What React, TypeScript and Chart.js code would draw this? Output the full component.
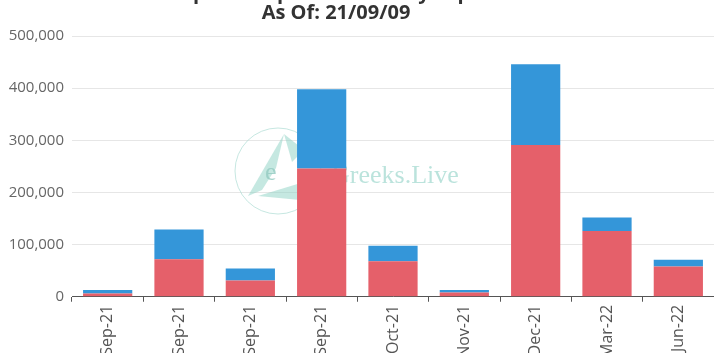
import React, { useEffect, useRef } from "react";
import { Chart, registerables } from "chart.js";
Chart.register(...registerables);

const titleLines = ["BTC Options Open Interest By Expiration", "As Of: 21/09/09"];
const categories = ["Sep-21", "Sep-21", "Sep-21", "Sep-21", "Oct-21", "Nov-21", "Dec-21", "Mar-22", "Jun-22"];
const redValues = [6000, 72000, 31000, 246000, 68000, 8000, 291000, 126000, 58000];
const blueValues = [7000, 57000, 23000, 152000, 30000, 5000, 155000, 26000, 13000];
const yMax = 500000;
const yStep = 100000;

const watermark = {
  id: "watermark",
  beforeDatasetsDraw(chart: any) {
    const { ctx, chartArea: a } = chart;
    const ox = a.left - 72;
    const oy = a.top - 36;
    const P = (x: number, y: number): [number, number] => [x + ox, y + oy];
    ctx.save();
    ctx.strokeStyle = "rgba(160,215,205,0.6)";
    ctx.lineWidth = 1;
    ctx.beginPath();
    const [cx, cy] = P(278, 171);
    ctx.arc(cx, cy, 43, 0, Math.PI * 2);
    ctx.stroke();
    ctx.fillStyle = "rgba(140,210,195,0.5)";
    const tri = (pts: number[][]) => {
      ctx.beginPath();
      pts.forEach((p, i) => {
        const [x, y] = P(p[0], p[1]);
        if (i === 0) ctx.moveTo(x, y);
        else ctx.lineTo(x, y);
      });
      ctx.closePath();
      ctx.fill();
    };
    tri([[248, 196], [284, 134], [276, 168], [262, 190]]);
    tri([[258, 196], [304, 182], [300, 200]]);
    tri([[284, 134], [304, 150], [292, 162]]);
    ctx.fillStyle = "rgba(150,205,195,0.85)";
    ctx.font = "26px 'Liberation Serif'";
    ctx.textBaseline = "alphabetic";
    const [ex, ey] = P(265, 180);
    ctx.fillText("e", ex, ey);
    ctx.fillStyle = "rgba(175,222,214,0.85)";
    ctx.font = "26px 'Liberation Serif'";
    const [tx, ty] = P(331, 183);
    ctx.fillText("Greeks.Live", tx, ty);
    ctx.restore();
  },
};

export default function App() {
  const ref = useRef<HTMLCanvasElement>(null);
  useEffect(() => {
    const chart = new Chart(ref.current!, {
      type: "bar",
      data: {
        labels: categories,
        datasets: [
          { label: "Red", data: redValues, backgroundColor: "#e5606a", borderWidth: 0 },
          { label: "Blue", data: blueValues, backgroundColor: "#3496d9", borderWidth: 0 },
        ],
      },
      options: {
        animation: false,
        responsive: true,
        maintainAspectRatio: false,
        datasets: { bar: { categoryPercentage: 1, barPercentage: 0.69 } },
        layout: { padding: 0 },
        plugins: {
          legend: { display: false },
          tooltip: { enabled: false },
          title: {
            display: true,
            text: titleLines,
            color: "#333",
            font: { size: 20, weight: "bold", family: "'Open Sans'", lineHeight: 1.0 },
            padding: { top: 4, bottom: 13 },
          },
        },
        scales: {
          x: {
            stacked: true,
            grid: { display: true, drawOnChartArea: false, drawTicks: true, tickLength: 5, color: "#555", offset: true },
            border: { display: true, color: "#555" },
            ticks: {
              autoSkip: false,
              maxRotation: 90,
              minRotation: 90,
              padding: 3,
              color: "#555",
              font: { size: 16, family: "'Open Sans'" },
            },
          },
          y: {
            stacked: true,
            min: 0,
            max: yMax,
            afterFit: (s: any) => {
              s.width = 114;
            },
            ticks: {
              stepSize: yStep,
              padding: 8,
              color: "#666",
              font: { size: 15, family: "'Open Sans'" },
            },
            grid: { color: "#e6e6e6", drawTicks: false },
            border: { display: false },
          },
        },
      },
      plugins: [watermark],
    });
    return () => chart.destroy();
  }, []);
  return (
    <div style={{ position: "fixed", left: 0, top: 0, width: 724, height: 353, overflow: "hidden", background: "#fff" }}>
      <div style={{ position: "absolute", left: -42, top: -21, width: 756, height: 382 }}>
        <canvas ref={ref} />
      </div>
    </div>
  );
}
